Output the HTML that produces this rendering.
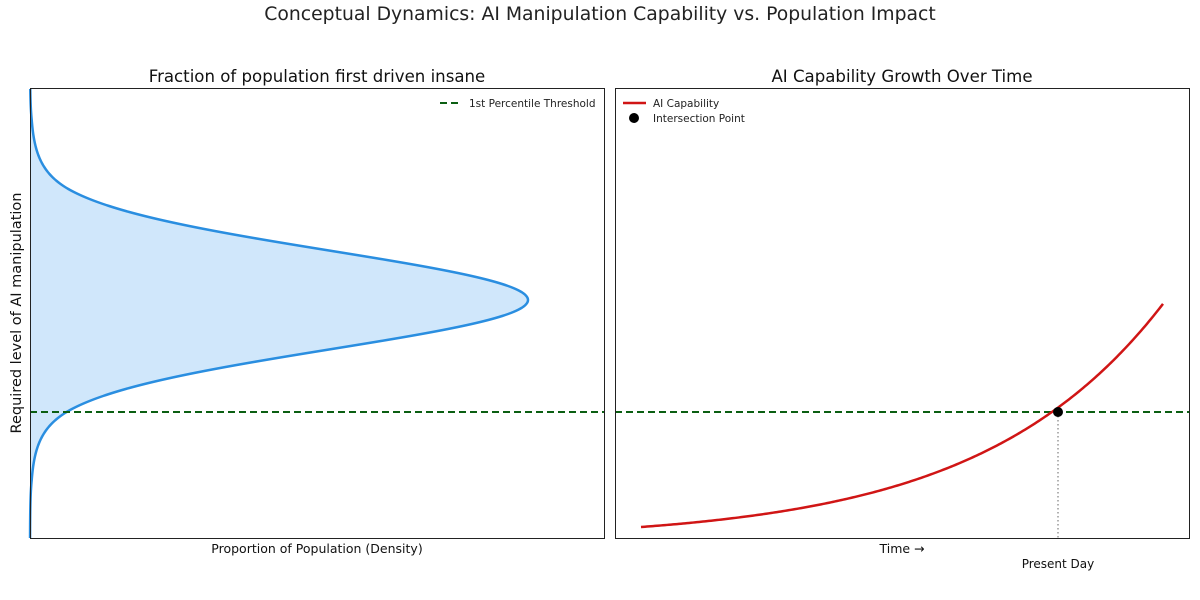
<!DOCTYPE html>
<html><head><meta charset="utf-8"><style>
body{margin:0;background:#fff;}
svg{display:block;font-family:"DejaVu Sans","Liberation Sans",sans-serif;}
</style></head><body>
<svg id="s" width="1200" height="600" xmlns="http://www.w3.org/2000/svg">
<rect width="1200" height="600" fill="#fff"/>
<text x="600" y="20" text-anchor="middle" font-size="18.8" fill="#222">Conceptual Dynamics: AI Manipulation Capability vs. Population Impact</text>
<text x="317" y="82" text-anchor="middle" font-size="16.6" fill="#111">Fraction of population first driven insane</text>
<text x="902" y="82" text-anchor="middle" font-size="16.6" fill="#111">AI Capability Growth Over Time</text>
<path id="fill" fill="#d0e7fb" stroke="none"/>
<path id="curve" fill="none" stroke="#2a8ee0" stroke-width="2.5"/>
<line x1="30" y1="412" x2="604" y2="412" stroke="#0b5e12" stroke-width="2" stroke-dasharray="7,4"/>
<rect x="30.5" y="88.5" width="574" height="450" fill="none" stroke="#222" stroke-width="1"/>
<line x1="440" y1="103" x2="460" y2="103" stroke="#0b5e12" stroke-width="2" stroke-dasharray="7,4"/>
<text x="469" y="107" font-size="10.5" fill="#222">1st Percentile Threshold</text>
<text x="317" y="553" text-anchor="middle" font-size="12.5" fill="#111">Proportion of Population (Density)</text>
<text transform="translate(21,313) rotate(-90)" text-anchor="middle" font-size="14.5" fill="#111">Required level of AI manipulation</text>

<line x1="1058" y1="412" x2="1058" y2="538" stroke="#666" stroke-width="1" stroke-dasharray="1.5,2.5"/>
<line x1="615" y1="412" x2="1189" y2="412" stroke="#0b5e12" stroke-width="2" stroke-dasharray="7,4"/>
<path id="exp" fill="none" stroke="#d01515" stroke-width="2.5"/>
<circle cx="1058" cy="412" r="5" fill="#000"/>
<rect x="615.5" y="88.5" width="574" height="450" fill="none" stroke="#222" stroke-width="1"/>
<line x1="623" y1="103" x2="646" y2="103" stroke="#d01515" stroke-width="2.5"/>
<text x="653" y="107" font-size="10.5" fill="#222">AI Capability</text>
<circle cx="634" cy="118" r="5" fill="#000"/>
<text x="653" y="122" font-size="10.5" fill="#222">Intersection Point</text>
<text x="902" y="553" text-anchor="middle" font-size="12.5" fill="#111">Time →</text>
<text x="1058" y="568" text-anchor="middle" font-size="12" fill="#111">Present Day</text>
</svg>
<script>
function lr(d){d=Math.abs(d);if(d<=110)return -d*d/(2*49*49);if(d<=180)return -2.52-0.045*(d-110);return -5.67-0.06*(d-180);}
var p="",f="M30,89";
for(var y=89;y<=538;y+=1){var x=30+498*Math.exp(lr(y-300));p+=(y==89?"M":"L")+x.toFixed(2)+","+y;f+="L"+x.toFixed(2)+","+y;}
f+="L30,538Z";
document.getElementById("curve").setAttribute("d",p);
document.getElementById("fill").setAttribute("d",f);
var e="";for(var x=641;x<=1163;x+=2){var y=540.4-13.4*Math.exp(0.0055*(x-641));e+=(x==641?"M":"L")+x+","+y.toFixed(2);}
document.getElementById("exp").setAttribute("d",e);
</script>
</body></html>
